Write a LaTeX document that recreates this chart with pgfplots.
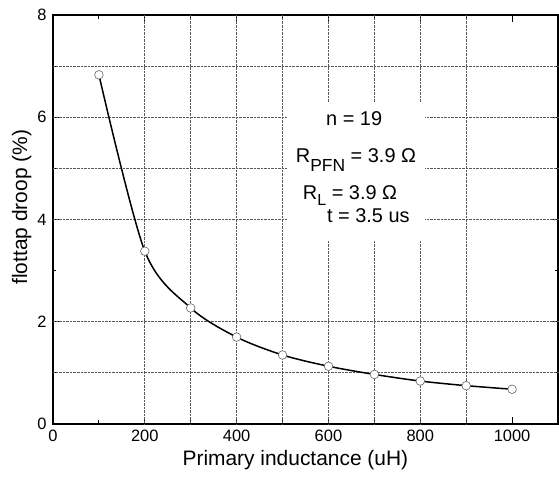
\documentclass[border=0pt]{standalone}
\usepackage{pgfplots}
\pgfplotsset{compat=1.18}
\usepackage{fontspec}
\setmainfont{Liberation Sans}
\begin{document}
\begin{tikzpicture}
\useasboundingbox (-53bp,-58bp) rectangle (506bp,424bp);
\begin{axis}[
  scale only axis,
  width=505bp, height=409bp,
  xmin=0, xmax=1100, ymin=0, ymax=8,
  xtick={0,200,...,1000}, minor xtick={100,300,...,900},
  ytick={0,2,...,8}, minor ytick={1,3,5,7},
  extra x ticks={200,300,...,900},
  extra x tick labels={},
  extra x tick style={grid=major, major tick length=0pt},
  extra y ticks={1,2,4,5,6,7},
  extra y tick labels={},
  extra y tick style={grid=major, major tick length=0pt},
  major grid style={black!65, densely dotted, line width=0.8bp},
  tick align=inside,
  major tick length=7bp, minor tick length=3.5bp,
  every tick/.style={black, line width=1bp},
  axis line style={line width=1.3bp},
  /pgf/number format/assume math mode=true,
  /pgf/number format/1000 sep={},
  ticklabel style={font=\fontsize{16.5}{18}\selectfont},
  xticklabel style={yshift=-3bp},
  yticklabel style={xshift=-3bp},
  xlabel={Primary inductance (uH)},
  ylabel={flottap droop (\%)},
  label style={font=\fontsize{21}{23}\selectfont},
  xlabel style={at={(ticklabel cs:0.48)}, yshift=-1bp},
  ylabel style={at={(ticklabel cs:0.53)}, yshift=-1bp},
]
\fill[white] (axis cs:510,3.6) rectangle (axis cs:810,6.28);
\addplot[black, line width=1.5bp, smooth, mark=*, mark size=4.3bp,
  mark options={fill=white, draw=black!60, line width=0.6bp}]
  coordinates {(100,6.83) (200,3.38) (300,2.27) (400,1.70) (500,1.35)
               (600,1.13) (700,0.97) (800,0.84) (900,0.75) (1000,0.68)};
\node[anchor=base, font=\fontsize{20}{22}\selectfont] at (axis cs:656,5.83) {n = 19};
\node[anchor=base, font=\fontsize{20}{22}\selectfont] at (axis cs:660,5.11) {R\raisebox{-0.42em}{\fontsize{17.5}{18}\selectfont PFN} = 3.9 Ω};
\node[anchor=base, font=\fontsize{20}{22}\selectfont] at (axis cs:647,4.40) {R\raisebox{-0.3em}{\fontsize{16}{17}\selectfont L} = 3.9 Ω};
\node[anchor=base, font=\fontsize{20}{22}\selectfont] at (axis cs:687,3.95) {t = 3.5 us};
\end{axis}
\end{tikzpicture}
\end{document}
